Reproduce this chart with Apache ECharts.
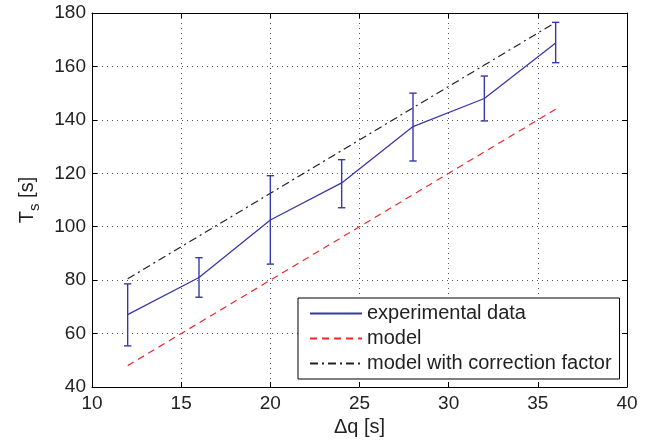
<!DOCTYPE html>
<html>
<head>
<meta charset="utf-8">
<script src="https://cdn.jsdelivr.net/npm/echarts@6/dist/echarts.min.js"></script>
<style>
  html, body { margin: 0; padding: 0; background: #fff; }
  #chart { width: 658px; height: 443px; }
</style>
</head>
<body>
<div id="chart"></div>
<script>
// Flow increment Δq [s] at which the settling time was measured
const deltaQ = [12, 16, 20, 24, 28, 32, 36];
// Measured settling time (mean) and its spread
const measured = [67.1, 81.0, 102.5, 116.4, 137.5, 148.0, 168.8];
const measuredLow = [55.4, 73.6, 86.0, 107.1, 124.6, 139.6, 161.4];
const measuredHigh = [78.6, 88.4, 119.1, 125.1, 150.0, 156.4, 176.5];
// Model predictions
const modelT = [48, 64, 80, 96, 112, 128, 144];
const correctedT = [80.5, 96.5, 112.5, 128.5, 144.5, 160.5, 176.5];
// Axis ticks
const xTicks = { min: 10, max: 40, step: 5 };
const yTicks = { min: 40, max: 180, step: 20 };

const pairs = (xs, ys) => xs.map((x, i) => [x, ys[i]]);
const errData = deltaQ.map((x, i) => [x, measuredLow[i], measuredHigh[i]]);

const FONT = 'Liberation Sans, Arial, Helvetica, sans-serif';
const BLUE = '#3838aa';

const gridLine = { show: true, lineStyle: { color: '#555', type: [1, 4], width: 1 } };
const axisLine = { show: true, lineStyle: { color: '#000', width: 1 } };
const tickIn = { show: true, inside: true, length: 5, lineStyle: { color: '#000' } };

const chart = echarts.init(document.getElementById('chart'), null, { renderer: 'canvas' });
chart.setOption({
  animation: false,
  backgroundColor: '#fff',
  grid: { left: 92, right: 31, top: 13, bottom: 56, show: false },
  xAxis: [{
    type: 'value', min: xTicks.min, max: xTicks.max, interval: xTicks.step,
    axisLine: axisLine, axisTick: tickIn, splitLine: gridLine,
    axisLabel: { color: '#222', fontSize: 19, fontFamily: FONT, margin: 7 },
    name: 'Δq [s]', nameLocation: 'middle', nameGap: 28,
    nameTextStyle: { color: '#222', fontSize: 20, fontFamily: FONT }
  }, {
    type: 'value', position: 'top', min: xTicks.min, max: xTicks.max, interval: xTicks.step,
    axisLine: axisLine, axisTick: tickIn, splitLine: { show: false }, axisLabel: { show: false }
  }],
  yAxis: [{
    type: 'value', min: yTicks.min, max: yTicks.max, interval: yTicks.step,
    axisLine: axisLine, axisTick: tickIn, splitLine: gridLine,
    axisLabel: { color: '#222', fontSize: 19, fontFamily: FONT, margin: 6 },
    name: '{a|T}{b|s}{a| [s]}', nameLocation: 'middle', nameGap: 52, nameRotate: 90,
    nameTextStyle: {
      color: '#222', fontFamily: FONT,
      rich: {
        a: { fontSize: 20, fontFamily: FONT, color: '#222', lineHeight: 26, verticalAlign: 'middle' },
        b: { fontSize: 15, fontFamily: FONT, color: '#222', lineHeight: 26, verticalAlign: 'bottom', padding: [0, 0, -2, 0] }
      }
    }
  }, {
    type: 'value', position: 'right', min: yTicks.min, max: yTicks.max, interval: yTicks.step,
    axisLine: axisLine, axisTick: tickIn, splitLine: { show: false }, axisLabel: { show: false }
  }],
  legend: {
    orient: 'vertical', left: 298, top: 298,
    data: ['experimental data', 'model', 'model with correction factor'],
    itemWidth: 52, itemHeight: 14, itemGap: 4,
    padding: [5, 8, 5, 11],
    borderColor: '#000', borderWidth: 1, backgroundColor: '#fff',
    itemStyle: { opacity: 0 },
    textStyle: { color: '#222', fontSize: 20, fontFamily: FONT, lineHeight: 21 }
  },
  series: [
    {
      name: 'experimental data', type: 'line', data: pairs(deltaQ, measured),
      symbol: 'none', lineStyle: { color: BLUE, width: 1.3 }, itemStyle: { color: BLUE }, z: 4
    },
    {
      name: 'model', type: 'line', data: pairs(deltaQ, modelT),
      symbol: 'none', lineStyle: { color: '#f02828', width: 1.2, type: [7, 5] }, itemStyle: { color: '#f02828' }, z: 3
    },
    {
      name: 'model with correction factor', type: 'line', data: pairs(deltaQ, correctedT),
      symbol: 'none', lineStyle: { color: '#222', width: 1.2, type: [8, 4, 2, 4] }, itemStyle: { color: '#222' }, z: 3
    },
    {
      name: 'error', type: 'custom', data: errData, z: 5,
      encode: { x: 0, y: [1, 2] },
      renderItem: function (params, api) {
        const x = api.value(0);
        const lo = api.coord([x, api.value(1)]);
        const hi = api.coord([x, api.value(2)]);
        const w = 3.7;
        const st = { stroke: BLUE, lineWidth: 1.4 };
        return {
          type: 'group',
          children: [
            { type: 'line', shape: { x1: lo[0], y1: lo[1], x2: hi[0], y2: hi[1] }, style: st },
            { type: 'line', shape: { x1: hi[0] - w, y1: hi[1], x2: hi[0] + w, y2: hi[1] }, style: st },
            { type: 'line', shape: { x1: lo[0] - w, y1: lo[1], x2: lo[0] + w, y2: lo[1] }, style: st }
          ]
        };
      }
    }
  ]
});
</script>
</body>
</html>
